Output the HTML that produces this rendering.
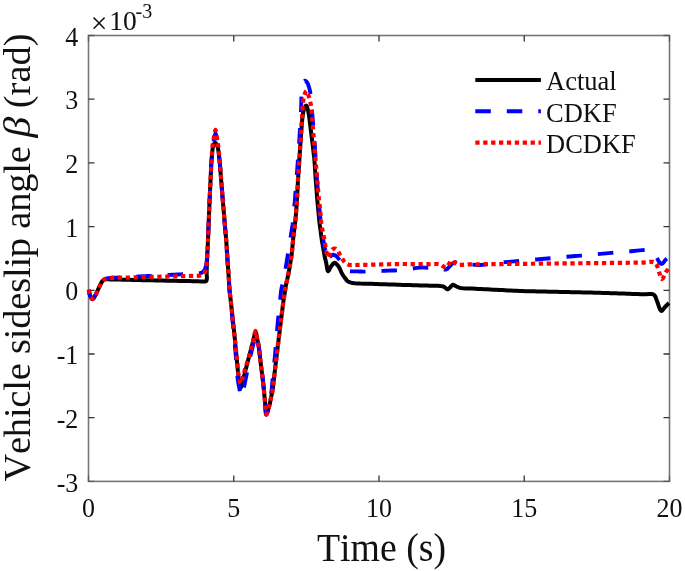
<!DOCTYPE html>
<html><head><meta charset="utf-8"><style>
html,body{margin:0;padding:0;background:#fff;}
body{width:685px;height:571px;overflow:hidden;}
svg{display:block;}
text{font-family:"Liberation Serif",serif;fill:#111;font-kerning:none;}
</style></head><body>
<svg width="685" height="571" viewBox="0 0 685 571" style="filter:blur(0.45px)">
<rect x="0" y="0" width="685" height="571" fill="#fff"/>
<rect x="88.5" y="35.5" width="581.0" height="445.9" fill="none" stroke="#777" stroke-width="1.6"/>
<path d="M233.75,481.40V475.40M233.75,35.50V41.50M379.00,481.40V475.40M379.00,35.50V41.50M524.25,481.40V475.40M524.25,35.50V41.50M88.50,417.70H94.50M669.50,417.70H663.50M88.50,354.00H94.50M669.50,354.00H663.50M88.50,290.30H94.50M669.50,290.30H663.50M88.50,226.60H94.50M669.50,226.60H663.50M88.50,162.90H94.50M669.50,162.90H663.50M88.50,99.20H94.50M669.50,99.20H663.50" stroke="#333" stroke-width="1.3" fill="none"/>
<path d="M88.50,481.40V475.40M88.50,35.50V41.50M669.50,481.40V475.40M669.50,35.50V41.50M88.50,481.40H94.50M669.50,481.40H663.50M88.50,35.50H94.50M669.50,35.50H663.50" stroke="#5a5a5a" stroke-width="1.3" fill="none"/>
<g font-size="26"><text transform="translate(78.3,491.50) scale(1,1.06)" text-anchor="end">-3</text><text transform="translate(78.3,427.80) scale(1,1.06)" text-anchor="end">-2</text><text transform="translate(78.3,364.10) scale(1,1.06)" text-anchor="end">-1</text><text transform="translate(78.3,300.40) scale(1,1.06)" text-anchor="end">0</text><text transform="translate(78.3,236.70) scale(1,1.06)" text-anchor="end">1</text><text transform="translate(78.3,173.00) scale(1,1.06)" text-anchor="end">2</text><text transform="translate(78.3,109.30) scale(1,1.06)" text-anchor="end">3</text><text transform="translate(78.3,45.60) scale(1,1.06)" text-anchor="end">4</text><text transform="translate(88.50,517.3) scale(1,1.06)" text-anchor="middle">0</text><text transform="translate(233.75,517.3) scale(1,1.06)" text-anchor="middle">5</text><text transform="translate(379.00,517.3) scale(1,1.06)" text-anchor="middle">10</text><text transform="translate(524.25,517.3) scale(1,1.06)" text-anchor="middle">15</text><text transform="translate(669.50,517.3) scale(1,1.06)" text-anchor="middle">20</text></g>
<text x="90.8" y="32.6" font-size="29.5">×</text><text x="109.3" y="29.6" font-size="27.5">10</text>
<text x="135.5" y="17.7" font-size="20">-3</text>
<text transform="translate(381.5,560.5) scale(1,1.05)" font-size="38.5" text-anchor="middle" textLength="129.1" lengthAdjust="spacingAndGlyphs">Time (s)</text>
<g font-size="38.5"><text transform="translate(30.2,481.6) rotate(-90)" textLength="335.4" lengthAdjust="spacing">Vehicle sideslip angle</text>
<text transform="translate(30.2,137.6) rotate(-90) scale(1.08,1)" font-style="italic">β</text>
<text transform="translate(30.2,108.2) rotate(-90)">(rad)</text></g>
<path d="M88.60,290.00 L89.02,291.56 L89.43,293.15 L89.87,294.67 L90.40,296.00 L90.87,296.98 L91.39,297.95 L91.94,298.69 L92.50,299.00 L93.10,298.73 L93.73,298.01 L94.36,297.03 L95.00,296.00 L95.99,294.17 L96.99,291.97 L98.00,289.65 L99.00,287.50 L99.87,285.69 L100.72,283.89 L101.59,282.26 L102.50,281.00 L103.08,280.43 L103.66,279.99 L104.29,279.66 L105.00,279.40 L106.07,279.23 L107.27,279.25 L108.58,279.34 L110.00,279.40 L112.26,279.44 L114.79,279.50 L117.42,279.56 L120.00,279.62 L122.50,279.68 L125.00,279.74 L127.50,279.79 L130.00,279.85 L132.50,279.91 L135.00,279.96 L137.50,280.02 L140.00,280.07 L142.49,280.13 L144.98,280.19 L147.48,280.24 L150.00,280.30 L152.63,280.36 L155.28,280.41 L157.94,280.47 L160.60,280.52 L163.25,280.57 L165.90,280.63 L168.55,280.69 L171.20,280.74 L173.85,280.79 L176.50,280.85 L179.15,280.90 L181.80,280.96 L184.45,281.01 L187.10,281.07 L189.75,281.12 L192.40,281.18 L195.19,281.26 L198.08,281.36 L200.77,281.43 L203.00,281.40 L204.01,281.42 L204.91,281.47 L205.68,281.38 L206.30,281.00 L206.85,279.40 L206.89,276.94 L206.72,274.13 L206.65,271.50 L206.73,269.14 L206.82,266.79 L206.90,264.42 L207.00,262.00 L207.12,259.31 L207.24,256.55 L207.37,253.77 L207.50,251.00 L207.63,248.24 L207.76,245.47 L207.88,242.71 L208.00,240.00 L208.11,237.47 L208.20,234.97 L208.30,232.49 L208.40,230.00 L208.50,227.50 L208.60,225.00 L208.70,222.50 L208.80,220.00 L208.90,217.50 L209.00,215.00 L209.10,212.50 L209.20,210.00 L209.30,207.49 L209.40,204.98 L209.50,202.48 L209.60,200.00 L209.71,197.61 L209.82,195.23 L209.94,192.87 L210.05,190.50 L210.16,188.12 L210.28,185.75 L210.39,183.38 L210.50,181.00 L210.61,178.62 L210.72,176.25 L210.84,173.88 L210.95,171.50 L211.06,169.08 L211.16,166.64 L211.27,164.25 L211.40,162.00 L211.54,160.29 L211.69,158.67 L211.85,157.10 L212.00,155.50 L212.13,153.85 L212.24,152.19 L212.38,150.56 L212.60,149.00 L212.86,147.60 L213.16,146.19 L213.53,144.94 L214.00,144.00 L214.34,143.59 L214.73,143.25 L215.13,143.04 L215.50,143.00 L215.91,143.23 L216.30,143.71 L216.67,144.33 L217.00,145.00 L217.41,146.06 L217.75,147.31 L218.04,148.65 L218.30,150.00 L218.53,151.46 L218.70,152.96 L218.84,154.49 L219.00,156.00 L219.18,157.47 L219.36,158.92 L219.53,160.41 L219.70,162.00 L219.89,164.12 L220.07,166.39 L220.25,168.71 L220.43,171.00 L220.61,173.25 L220.79,175.50 L220.97,177.75 L221.15,180.00 L221.33,182.25 L221.51,184.50 L221.69,186.75 L221.88,189.00 L222.05,191.23 L222.23,193.46 L222.41,195.70 L222.60,198.00 L222.82,200.57 L223.04,203.20 L223.27,205.86 L223.50,208.50 L223.72,211.12 L223.95,213.75 L224.18,216.38 L224.40,219.00 L224.62,221.62 L224.85,224.25 L225.07,226.88 L225.30,229.50 L225.53,232.13 L225.76,234.77 L225.99,237.39 L226.20,240.00 L226.38,242.52 L226.55,245.01 L226.71,247.51 L226.88,250.00 L227.05,252.50 L227.22,255.00 L227.39,257.50 L227.56,260.00 L227.73,262.50 L227.90,265.00 L228.07,267.50 L228.24,270.00 L228.41,272.50 L228.58,275.00 L228.75,277.50 L228.92,280.00 L229.08,282.49 L229.23,284.96 L229.40,287.46 L229.60,290.00 L229.87,292.79 L230.18,295.64 L230.51,298.51 L230.82,301.38 L231.13,304.22 L231.44,307.06 L231.74,309.91 L232.05,312.75 L232.36,315.59 L232.66,318.44 L232.97,321.28 L233.28,324.12 L233.59,326.98 L233.90,329.85 L234.21,332.70 L234.50,335.50 L234.76,338.07 L235.00,340.60 L235.24,343.11 L235.47,345.62 L235.72,348.16 L235.96,350.69 L236.21,353.22 L236.45,355.75 L236.69,358.28 L236.94,360.81 L237.18,363.34 L237.43,365.88 L237.66,368.47 L237.89,371.10 L238.13,373.66 L238.40,376.00 L238.64,377.61 L238.91,379.10 L239.18,380.54 L239.45,382.00 L239.69,383.78 L239.91,385.74 L240.17,387.33 L240.50,388.00 L241.04,387.15 L241.68,385.05 L242.36,382.42 L243.00,380.00 L243.60,377.79 L244.19,375.54 L244.76,373.26 L245.33,371.00 L245.92,368.75 L246.50,366.50 L247.08,364.25 L247.67,362.00 L248.24,359.77 L248.82,357.54 L249.40,355.30 L250.00,353.00 L250.68,350.43 L251.38,347.80 L252.09,345.14 L252.80,342.50 L253.52,339.38 L254.27,335.93 L254.97,333.14 L255.60,332.00 L256.01,332.72 L256.37,334.44 L256.70,336.57 L257.05,338.50 L257.42,340.10 L257.80,341.68 L258.17,343.30 L258.50,345.00 L258.82,347.14 L259.09,349.40 L259.34,351.71 L259.60,354.00 L259.88,356.25 L260.15,358.50 L260.43,360.75 L260.70,363.00 L260.97,365.25 L261.25,367.50 L261.52,369.75 L261.80,372.00 L262.08,374.25 L262.36,376.50 L262.63,378.75 L262.90,381.00 L263.16,383.28 L263.43,385.59 L263.67,387.85 L263.90,390.00 L264.07,391.70 L264.21,393.32 L264.36,394.90 L264.50,396.50 L264.64,398.08 L264.78,399.64 L264.93,401.25 L265.10,403.00 L265.31,406.17 L265.53,409.95 L265.83,413.13 L266.30,414.50 L266.99,413.47 L267.87,410.91 L268.76,407.76 L269.50,405.00 L269.97,403.07 L270.35,401.20 L270.69,399.36 L271.05,397.50 L271.45,395.64 L271.86,393.78 L272.25,391.91 L272.60,390.00 L272.90,387.92 L273.14,385.79 L273.37,383.64 L273.60,381.50 L273.85,379.39 L274.10,377.29 L274.34,375.17 L274.60,373.00 L274.88,370.61 L275.17,368.17 L275.46,365.70 L275.75,363.25 L276.04,360.82 L276.32,358.40 L276.61,355.97 L276.90,353.50 L277.22,350.88 L277.54,348.23 L277.87,345.56 L278.20,342.90 L278.53,340.25 L278.85,337.60 L279.18,334.95 L279.50,332.30 L279.82,329.65 L280.14,327.01 L280.47,324.36 L280.80,321.70 L281.14,319.00 L281.49,316.28 L281.85,313.57 L282.20,310.85 L282.55,308.09 L282.90,305.30 L283.25,302.57 L283.60,300.00 L283.90,298.03 L284.20,296.16 L284.50,294.34 L284.80,292.50 L285.08,290.65 L285.36,288.81 L285.65,286.95 L286.00,285.00 L286.50,282.60 L287.07,280.09 L287.66,277.54 L288.20,275.00 L288.68,272.50 L289.14,270.00 L289.57,267.50 L290.00,265.00 L290.43,262.50 L290.85,260.00 L291.25,257.50 L291.60,255.00 L291.89,252.50 L292.14,250.00 L292.36,247.50 L292.60,245.00 L292.84,242.50 L293.08,240.00 L293.33,237.50 L293.60,235.00 L293.91,232.50 L294.25,230.00 L294.59,227.50 L294.90,225.00 L295.18,222.50 L295.44,220.00 L295.68,217.50 L295.90,215.00 L296.10,212.50 L296.27,210.00 L296.44,207.50 L296.60,205.00 L296.76,202.47 L296.92,199.91 L297.06,197.40 L297.20,195.00 L297.31,193.05 L297.41,191.18 L297.50,189.35 L297.60,187.50 L297.70,185.62 L297.79,183.75 L297.89,181.87 L298.00,180.00 L298.12,178.12 L298.24,176.25 L298.37,174.37 L298.50,172.50 L298.62,170.62 L298.75,168.75 L298.88,166.88 L299.00,165.00 L299.12,163.12 L299.25,161.25 L299.38,159.38 L299.50,157.50 L299.62,155.62 L299.75,153.75 L299.88,151.88 L300.00,150.00 L300.12,148.12 L300.25,146.25 L300.38,144.38 L300.50,142.50 L300.62,140.62 L300.74,138.75 L300.87,136.87 L301.00,135.00 L301.14,133.12 L301.29,131.25 L301.45,129.37 L301.60,127.50 L301.73,125.65 L301.85,123.81 L302.00,121.95 L302.20,120.00 L302.48,117.50 L302.81,114.82 L303.23,112.23 L303.80,110.00 L304.34,108.51 L304.98,107.04 L305.62,105.93 L306.20,105.50 L306.65,105.92 L307.07,106.93 L307.45,108.22 L307.80,109.50 L308.22,111.21 L308.59,113.13 L308.91,115.10 L309.20,117.00 L309.43,118.66 L309.63,120.28 L309.81,121.89 L310.00,123.50 L310.20,125.11 L310.39,126.72 L310.59,128.34 L310.80,130.00 L311.03,131.84 L311.27,133.72 L311.51,135.61 L311.75,137.50 L311.99,139.37 L312.23,141.25 L312.47,143.12 L312.70,145.00 L312.92,146.87 L313.13,148.75 L313.34,150.62 L313.55,152.50 L313.77,154.36 L313.99,156.21 L314.21,158.08 L314.40,160.00 L314.57,162.19 L314.72,164.45 L314.86,166.73 L315.00,169.00 L315.15,171.23 L315.29,173.44 L315.44,175.69 L315.60,178.00 L315.80,180.67 L316.01,183.43 L316.23,186.22 L316.45,189.00 L316.66,191.75 L316.86,194.50 L317.07,197.25 L317.30,200.00 L317.55,202.75 L317.81,205.50 L318.08,208.25 L318.35,211.00 L318.61,213.78 L318.86,216.57 L319.12,219.33 L319.40,222.00 L319.68,224.31 L319.99,226.56 L320.29,228.77 L320.60,231.00 L320.89,233.26 L321.18,235.53 L321.48,237.79 L321.80,240.00 L322.13,242.03 L322.48,244.03 L322.84,246.01 L323.20,248.00 L323.54,250.01 L323.88,252.02 L324.22,254.02 L324.60,256.00 L325.01,257.92 L325.45,259.81 L325.90,261.71 L326.35,263.60 L326.74,265.84 L327.11,268.29 L327.53,270.31 L328.10,271.20 L328.72,270.72 L329.42,269.43 L330.19,267.85 L331.00,266.50 L331.83,265.36 L332.72,264.18 L333.62,263.23 L334.50,262.80 L335.20,262.96 L335.89,263.46 L336.57,264.13 L337.20,264.80 L337.83,265.50 L338.41,266.26 L338.96,267.10 L339.50,268.00 L340.11,269.27 L340.68,270.69 L341.25,272.14 L341.90,273.50 L342.62,274.69 L343.39,275.84 L344.19,276.94 L345.00,278.00 L345.69,278.96 L346.35,279.90 L347.08,280.77 L348.00,281.50 L349.45,282.18 L351.16,282.66 L353.04,283.01 L355.00,283.30 L357.62,283.54 L360.45,283.62 L363.37,283.63 L366.25,283.68 L369.06,283.77 L371.88,283.86 L374.69,283.96 L377.50,284.05 L380.31,284.14 L383.12,284.24 L385.94,284.33 L388.75,284.43 L391.58,284.52 L394.42,284.62 L397.23,284.71 L400.00,284.80 L402.54,284.88 L405.04,284.95 L407.51,285.03 L410.00,285.10 L412.50,285.17 L415.00,285.25 L417.50,285.33 L420.00,285.40 L422.50,285.48 L425.00,285.55 L427.50,285.62 L430.00,285.70 L432.61,285.75 L435.28,285.78 L437.82,285.84 L440.00,286.00 L441.14,286.13 L442.15,286.27 L443.08,286.48 L444.00,286.80 L444.93,287.42 L445.83,288.26 L446.68,288.99 L447.50,289.30 L448.15,289.11 L448.77,288.66 L449.38,288.07 L450.00,287.50 L450.73,286.77 L451.47,285.91 L452.23,285.17 L453.00,284.80 L453.72,284.91 L454.44,285.32 L455.20,285.84 L456.00,286.30 L457.00,286.76 L458.04,287.22 L459.18,287.65 L460.50,288.00 L463.06,288.33 L466.08,288.46 L469.29,288.51 L472.40,288.60 L475.38,288.75 L478.35,288.90 L481.33,289.05 L484.30,289.20 L487.27,289.35 L490.25,289.50 L493.22,289.65 L496.20,289.80 L499.18,289.95 L502.15,290.10 L505.13,290.25 L508.10,290.40 L511.08,290.56 L514.06,290.72 L517.04,290.87 L520.00,291.00 L522.87,291.09 L525.73,291.15 L528.58,291.20 L531.43,291.26 L534.29,291.32 L537.14,291.39 L540.00,291.45 L542.86,291.51 L545.71,291.58 L548.57,291.64 L551.43,291.71 L554.29,291.77 L557.14,291.84 L560.00,291.90 L562.86,291.96 L565.71,292.03 L568.57,292.09 L571.43,292.16 L574.29,292.22 L577.14,292.29 L580.00,292.35 L582.86,292.41 L585.71,292.48 L588.57,292.54 L591.44,292.60 L594.31,292.66 L597.17,292.73 L600.00,292.80 L602.71,292.88 L605.40,292.97 L608.08,293.07 L610.76,293.16 L613.45,293.25 L616.14,293.34 L618.83,293.43 L621.52,293.52 L624.21,293.61 L626.90,293.70 L629.59,293.79 L632.28,293.88 L634.97,293.97 L637.66,294.06 L640.35,294.15 L643.04,294.24 L645.91,294.14 L648.89,293.90 L651.64,293.93 L653.80,294.60 L654.95,295.78 L655.70,297.36 L656.30,299.16 L657.00,301.00 L658.02,303.77 L659.06,307.00 L660.14,309.73 L661.30,311.00 L662.18,310.64 L663.10,309.57 L664.05,308.21 L665.00,307.00 L665.98,305.99 L666.99,305.00 L667.99,304.00 L669.00,303.00" fill="none" stroke="#000" stroke-width="4.0" stroke-linejoin="round"/>
<path d="M88.60,290.50 L89.02,292.06 L89.43,293.67 L89.87,295.19 L90.40,296.50 L90.87,297.41 L91.40,298.28 L91.95,298.94 L92.50,299.20 L93.11,298.89 L93.73,298.12 L94.36,297.08 L95.00,296.00 L95.98,294.15 L96.99,291.95 L98.00,289.64 L99.00,287.50 L99.87,285.71 L100.73,283.93 L101.60,282.31 L102.50,281.00 L103.08,280.35 L103.66,279.82 L104.28,279.38 L105.00,279.00 L106.07,278.62 L107.27,278.36 L108.59,278.17 L110.00,278.00 L112.16,277.80 L114.56,277.69 L117.05,277.60 L119.50,277.50 L121.88,277.38 L124.25,277.25 L126.62,277.12 L129.00,277.00 L131.38,276.88 L133.75,276.75 L136.12,276.62 L138.50,276.50 L140.86,276.38 L143.22,276.25 L145.59,276.13 L148.00,276.00 L150.62,275.87 L153.29,275.73 L155.99,275.60 L158.67,275.47 L161.33,275.33 L164.00,275.20 L166.67,275.07 L169.33,274.93 L172.00,274.80 L174.67,274.68 L177.34,274.55 L180.00,274.40 L182.63,274.24 L185.26,274.06 L187.88,273.88 L190.50,273.70 L193.27,273.63 L196.14,273.64 L198.82,273.50 L201.00,273.00 L202.11,272.45 L203.02,271.79 L203.81,270.98 L204.50,270.00 L205.27,268.35 L205.82,266.37 L206.24,264.21" fill="none" stroke="#0000ff" stroke-width="3.9" stroke-dasharray="15.5 16" stroke-dashoffset="29.27" stroke-linejoin="round"/>
<path d="M206.24,264.21 L206.60,262.00 L206.90,259.38 L207.07,256.62 L207.17,253.79 L207.30,251.00 L207.48,248.24 L207.67,245.47 L207.85,242.71 L208.00,240.00 L208.12,237.47 L208.22,234.97 L208.31,232.49 L208.40,230.00 L208.50,227.50 L208.60,225.00 L208.70,222.50 L208.80,220.00 L208.90,217.50 L209.00,215.00 L209.10,212.50 L209.20,210.00 L209.30,207.49 L209.40,204.98 L209.50,202.48 L209.60,200.00 L209.71,197.61 L209.82,195.23 L209.94,192.87 L210.05,190.50 L210.16,188.12 L210.28,185.75 L210.39,183.38 L210.50,181.00 L210.61,178.62 L210.72,176.25 L210.84,173.88 L210.95,171.50 L211.06,169.10 L211.16,166.68 L211.27,164.30 L211.40,162.00 L211.54,160.06 L211.69,158.19 L211.85,156.35 L212.00,154.50 L212.13,152.63 L212.24,150.76 L212.39,148.89 L212.60,147.00 L212.93,144.98 L213.34,142.92 L213.78,140.90 L214.20,139.00 L214.53,137.29 L214.85,135.50 L215.18,134.08 L215.50,133.50 L215.83,134.07 L216.16,135.48 L216.48,137.27 L216.80,139.00 L217.20,141.12 L217.61,143.43 L217.98,145.77 L218.30,148.00 L218.52,149.81 L218.69,151.55 L218.84,153.27 L219.00,155.00 L219.18,156.73 L219.35,158.44 L219.53,160.19 L219.70,162.00 L219.89,164.17 L220.07,166.43 L220.25,168.72 L220.42,171.00 L220.61,173.25 L220.79,175.50 L220.97,177.75 L221.15,180.00 L221.33,182.25 L221.51,184.50 L221.69,186.75 L221.88,189.00 L222.05,191.23 L222.23,193.46 L222.41,195.70 L222.60,198.00 L222.81,200.57 L223.02,203.20 L223.24,205.86 L223.45,208.50 L223.66,211.12 L223.88,213.75 L224.09,216.38 L224.30,219.00 L224.51,221.62 L224.73,224.25 L224.94,226.88 L225.15,229.50 L225.37,232.13 L225.58,234.77 L225.80,237.39 L226.00,240.00 L226.18,242.52 L226.35,245.01 L226.51,247.51 L226.68,250.00 L226.85,252.50 L227.02,255.00 L227.19,257.50 L227.36,260.00 L227.53,262.50 L227.70,265.00 L227.87,267.50 L228.04,270.00 L228.21,272.50 L228.38,275.00 L228.55,277.50 L228.72,280.00 L228.88,282.49 L229.04,284.96 L229.20,287.46 L229.40,290.00 L229.66,292.77 L229.95,295.58 L230.25,298.42 L230.55,301.25 L230.84,304.06 L231.13,306.88 L231.41,309.69 L231.70,312.50 L231.99,315.31 L232.27,318.12 L232.56,320.94 L232.85,323.75 L233.14,326.56 L233.44,329.37 L233.73,332.19 L234.00,335.00 L234.25,337.81 L234.49,340.62 L234.72,343.44 L234.95,346.25 L235.19,349.06 L235.43,351.88 L235.66,354.69 L235.90,357.50 L236.14,360.31 L236.38,363.13 L236.61,365.94 L236.85,368.75 L237.07,371.60 L237.27,374.48 L237.50,377.30 L237.80,380.00 L238.15,382.21 L238.56,384.33 L238.98,386.40 L239.40,388.50 L239.78,391.02 L240.13,393.80 L240.53,396.05 L241.00,397.00 L241.64,396.05 L242.37,393.70 L243.12,390.74 L243.80,388.00 L244.41,385.41 L244.95,382.73 L245.47,380.02 L246.00,377.33 L246.55,374.67 L247.10,372.00 L247.65,369.33 L248.20,366.67 L248.74,364.00 L249.27,361.34 L249.81,358.67 L250.40,356.00 L251.06,353.26 L251.77,350.51 L252.49,347.75 L253.20,345.00 L253.92,341.73 L254.66,338.12 L255.37,335.20 L256.00,334.00 L256.42,334.77 L256.79,336.63 L257.14,338.92 L257.50,341.00 L257.88,342.71 L258.27,344.40 L258.65,346.13 L259.00,348.00 L259.37,350.57 L259.70,353.34 L260.01,356.19 L260.33,359.00 L260.67,361.75 L261.00,364.50 L261.33,367.25 L261.67,370.00 L262.01,372.78 L262.36,375.57 L262.69,378.33 L263.00,381.00 L263.25,383.35 L263.48,385.65 L263.70,387.87 L263.90,390.00 L264.06,391.70 L264.21,393.32 L264.35,394.90 L264.50,396.50 L264.64,398.08 L264.78,399.64 L264.93,401.25 L265.10,403.00 L265.32,406.17 L265.54,409.96 L265.84,413.13 L266.30,414.50 L266.96,413.47 L267.80,410.90 L268.63,407.76 L269.30,405.00 L269.68,403.07 L269.96,401.20 L270.19,399.36 L270.45,397.50 L270.75,395.64 L271.05,393.78 L271.34,391.91 L271.60,390.00 L271.83,387.91 L272.03,385.79 L272.21,383.64 L272.40,381.50 L272.60,379.38 L272.80,377.27 L272.99,375.14 L273.20,373.00 L273.42,370.77 L273.65,368.52 L273.87,366.26 L274.10,364.00 L274.33,361.78 L274.55,359.57 L274.78,357.33 L275.00,355.00 L275.25,352.19 L275.50,349.26 L275.75,346.29 L276.00,343.33 L276.25,340.42 L276.50,337.50 L276.75,334.58 L277.00,331.67 L277.25,328.73 L277.49,325.78 L277.74,322.85 L278.00,320.00 L278.26,317.45 L278.52,314.95 L278.80,312.48 L279.07,310.00 L279.33,307.50 L279.60,305.00 L279.87,302.50 L280.13,300.00 L280.38,297.46 L280.61,294.91 L280.87,292.39 L281.20,290.00 L281.57,288.04 L281.98,286.18 L282.42,284.35 L282.85,282.50 L283.27,280.64 L283.70,278.78 L284.11,276.91 L284.50,275.00 L284.87,272.95 L285.21,270.86 L285.53,268.76 L285.87,266.67 L286.21,264.58 L286.55,262.50 L286.89,260.42 L287.23,258.33 L287.58,256.25 L287.92,254.17 L288.26,252.08 L288.60,250.00 L288.93,247.92 L289.25,245.83 L289.58,243.75 L289.90,241.67 L290.23,239.58 L290.55,237.50 L290.88,235.42 L291.20,233.33 L291.54,231.25 L291.88,229.17 L292.21,227.09 L292.50,225.00 L292.73,222.92 L292.93,220.84 L293.11,218.75 L293.30,216.67 L293.50,214.58 L293.70,212.50 L293.90,210.42 L294.10,208.33 L294.30,206.25 L294.51,204.17 L294.71,202.08 L294.90,200.00 L295.07,197.92 L295.23,195.83 L295.38,193.75 L295.53,191.67 L295.69,189.58 L295.85,187.50 L296.01,185.42 L296.17,183.33 L296.32,181.26 L296.48,179.19 L296.64,177.11 L296.80,175.00 L296.97,172.77 L297.13,170.52 L297.30,168.26 L297.47,166.00 L297.63,163.75 L297.80,161.50 L297.97,159.25 L298.13,157.00 L298.30,154.77 L298.47,152.56 L298.64,150.31 L298.80,148.00 L298.97,145.33 L299.14,142.57 L299.30,139.78 L299.47,137.00 L299.63,134.25 L299.80,131.50 L299.97,128.75 L300.13,126.00 L300.31,123.24 L300.48,120.47 L300.65,117.71 L300.80,115.00 L300.92,112.47 L301.01,109.97 L301.11,107.49 L301.20,105.00 L301.27,102.50 L301.33,100.01 L301.42,97.51 L301.60,95.00 L301.89,92.26 L302.26,89.42 L302.70,86.74 L303.20,84.50 L303.52,83.29 L303.84,82.15 L304.22,81.26 L304.70,80.80 L305.18,80.81 L305.73,81.08 L306.30,81.50 L306.80,82.00 L307.40,82.88 L307.92,84.01 L308.37,85.26 L308.80,86.50 L309.22,87.82 L309.60,89.19 L309.92,90.59 L310.20,92.00 L310.42,93.48 L310.58,94.98 L310.71,96.49 L310.85,98.00 L311.02,99.49 L311.18,100.97 L311.35,102.47 L311.50,104.00 L311.65,105.71 L311.78,107.47 L311.92,109.24 L312.05,111.00 L312.18,112.71 L312.31,114.40 L312.45,116.14 L312.60,118.00 L312.82,120.58 L313.06,123.35 L313.31,126.19 L313.55,129.00 L313.79,131.76 L314.04,134.53 L314.28,137.29 L314.50,140.00 L314.68,142.53 L314.83,145.03 L314.98,147.51 L315.12,150.00 L315.28,152.50 L315.44,155.00 L315.59,157.50 L315.75,160.00 L315.91,162.50 L316.06,165.00 L316.22,167.50 L316.38,170.00 L316.52,172.48 L316.67,174.95 L316.82,177.45 L317.00,180.00 L317.23,182.85 L317.48,185.78 L317.74,188.73 L318.00,191.67 L318.25,194.58 L318.50,197.50 L318.75,200.42 L319.00,203.33 L319.24,206.26 L319.48,209.21 L319.73,212.13 L320.00,215.00 L320.29,217.67 L320.61,220.29 L320.93,222.89 L321.25,225.50 L321.55,228.18 L321.85,230.91 L322.16,233.55 L322.50,236.00 L322.80,237.74 L323.11,239.35 L323.43,240.91 L323.75,242.50 L324.04,244.10 L324.32,245.68 L324.62,247.29 L325.00,249.00 L325.56,251.65 L326.19,254.69 L326.93,257.26 L327.80,258.50 L328.35,258.36 L328.95,257.81 L329.57,257.10" fill="none" stroke="#0000ff" stroke-width="3.9" stroke-dasharray="15.5 16" stroke-dashoffset="3.20" stroke-linejoin="round"/>
<path d="M329.57,257.10 L330.20,256.50 L330.83,255.99 L331.46,255.46 L332.12,255.03 L332.80,254.80 L333.53,254.82 L334.30,255.03 L335.07,255.38 L335.80,255.80 L336.60,256.42 L337.35,257.20 L338.08,258.08 L338.80,259.00 L339.61,260.15 L340.39,261.39 L341.18,262.70 L342.00,264.00 L342.93,265.53 L343.89,267.16 L344.90,268.66 L346.00,269.80 L346.91,270.37 L347.86,270.74 L348.88,270.99 L350.00,271.20 L351.70,271.38 L353.59,271.42 L355.57,271.39 L357.50,271.40 L359.34,271.46 L361.15,271.53 L363.01,271.59 L365.00,271.60 L367.74,271.54 L370.67,271.42 L373.69,271.27 L376.67,271.13 L379.58,271.02 L382.50,270.90 L385.42,270.78 L388.33,270.67 L391.27,270.57 L394.23,270.49 L397.15,270.38 L400.00,270.20 L402.56,269.93 L405.05,269.60 L407.52,269.24 L410.00,268.90 L412.50,268.54 L415.00,268.16 L417.50,267.82 L420.00,267.60 L422.50,267.55 L425.00,267.61 L427.50,267.72 L430.00,267.80 L432.56,267.80 L435.17,267.77 L437.69,267.81 L440.00,268.00 L441.66,268.44 L443.21,269.07 L444.66,269.57 L446.00,269.60 L447.10,269.04 L448.07,268.10 L449.00,267.01 L450.00,266.00 L451.12,264.94 L452.27,263.80 L453.46,262.83 L454.70,262.30 L455.93,262.39 L457.19,262.90 L458.53,263.53 L460.00,264.00 L462.27,264.27 L464.79,264.38 L467.42,264.42 L470.00,264.50 L472.50,264.66 L475.00,264.86 L477.50,264.99 L480.00,265.00 L482.50,264.82 L485.00,264.51 L487.50,264.14 L490.00,263.80 L492.49,263.49 L494.96,263.18 L497.46,262.88 L500.00,262.60 L502.74,262.34 L505.54,262.10 L508.35,261.87 L511.15,261.63 L513.94,261.39 L516.73,261.15 L519.52,260.90 L522.31,260.66 L525.10,260.42 L527.88,260.18 L530.67,259.93 L533.46,259.69 L536.25,259.45 L539.04,259.21 L541.83,258.97 L544.62,258.72 L547.40,258.48 L550.19,258.24 L552.98,258.00 L555.77,257.75 L558.56,257.51 L561.35,257.27 L564.13,257.03 L566.92,256.78 L569.71,256.54 L572.50,256.30 L575.29,256.06 L578.08,255.82 L580.87,255.57 L583.65,255.33 L586.44,255.09 L589.23,254.85 L592.02,254.60 L594.81,254.36 L597.60,254.12 L600.38,253.88 L603.17,253.63 L605.96,253.39 L608.75,253.15 L611.54,252.91 L614.33,252.67 L617.12,252.42 L619.90,252.18 L622.69,251.94 L625.48,251.70 L628.27,251.45 L631.06,251.21 L633.85,250.97 L636.71,250.68 L639.64,250.37 L642.45,250.11 L645.00,250.00 L646.67,249.95 L648.21,249.90 L649.65,250.03 L651.00,250.50 L652.39,251.59 L653.63,253.13 L654.80,254.88 L656.00,256.60 L657.33,258.71 L658.65,261.11 L659.97,263.10 L661.30,264.00 L662.43,263.54 L663.58,262.32 L664.72,260.83 L665.80,259.60 L666.63,258.89 L667.42,258.25 L668.21,257.63 L669.00,257.00" fill="none" stroke="#0000ff" stroke-width="3.9" stroke-dasharray="15.5 16" stroke-dashoffset="2.57" stroke-linejoin="round"/>
<path d="M88.60,289.50 L89.03,291.04 L89.44,292.62 L89.89,294.13 L90.40,295.50 L90.87,296.61 L91.39,297.74 L91.93,298.62 L92.50,299.00 L93.09,298.74 L93.72,298.02 L94.36,297.04 L95.00,296.00 L95.99,294.17 L96.99,291.97 L98.00,289.65 L99.00,287.50 L99.87,285.71 L100.73,283.93 L101.60,282.31 L102.50,281.00 L103.08,280.35 L103.66,279.82 L104.28,279.38 L105.00,279.00 L106.06,278.62 L107.24,278.35 L108.56,278.16 L110.00,278.00 L112.48,277.83 L115.31,277.77 L118.28,277.75 L121.19,277.71 L123.98,277.64 L126.78,277.57 L129.58,277.50 L132.38,277.43 L135.17,277.35 L137.97,277.28 L140.77,277.21 L143.56,277.14 L146.36,277.07 L149.16,276.99 L151.95,276.92 L154.75,276.85 L157.55,276.78 L160.34,276.71 L163.14,276.63 L165.94,276.56 L168.73,276.49 L171.53,276.42 L174.33,276.35 L177.12,276.27 L179.92,276.20 L182.72,276.13 L185.52,276.06 L188.31,275.99 L191.26,275.97 L194.31,275.99 L197.16,275.93 L199.50,275.70 L200.55,275.50 L201.45,275.27 L202.26,274.96 L203.00,274.50 L203.75,273.84 L204.41,273.03 L205.00,272.08 L205.50,271.00 L206.04,269.10 L206.37,266.85 L206.59,264.43 L206.80,262.00 L207.01,259.33 L207.15,256.57 L207.27,253.78 L207.40,251.00 L207.55,248.24 L207.71,245.47 L207.86,242.71 L208.00,240.00 L208.11,237.47 L208.21,234.97 L208.30,232.49 L208.40,230.00 L208.50,227.50 L208.60,225.00 L208.70,222.50 L208.80,220.00 L208.90,217.50 L209.00,215.00 L209.10,212.50 L209.20,210.00 L209.30,207.49 L209.40,204.98 L209.50,202.48 L209.60,200.00 L209.71,197.61 L209.82,195.23 L209.94,192.87 L210.05,190.50 L210.16,188.12 L210.28,185.75 L210.39,183.38 L210.50,181.00 L210.61,178.62 L210.72,176.25 L210.84,173.88 L210.95,171.50 L211.06,169.11 L211.16,166.72 L211.27,164.34 L211.40,162.00 L211.54,159.84 L211.69,157.72 L211.85,155.61 L212.00,153.50 L212.13,151.35 L212.25,149.20 L212.40,147.06 L212.60,145.00 L212.85,143.21 L213.14,141.48 L213.46,139.76 L213.80,138.00 L214.20,135.66 L214.64,133.03 L215.08,130.88 L215.50,130.00 L215.89,130.87 L216.28,132.97 L216.65,135.59 L217.00,138.00 L217.36,140.24 L217.70,142.56 L218.02,144.84 L218.30,147.00 L218.50,148.70 L218.67,150.31 L218.83,151.90 L219.00,153.50 L219.18,155.10 L219.36,156.67 L219.53,158.29 L219.70,160.00 L219.89,162.25 L220.07,164.64 L220.25,167.08 L220.43,169.50 L220.61,171.88 L220.79,174.25 L220.97,176.62 L221.15,179.00 L221.33,181.38 L221.51,183.75 L221.69,186.12 L221.88,188.50 L222.05,190.86 L222.23,193.22 L222.41,195.59 L222.60,198.00 L222.82,200.59 L223.04,203.22 L223.27,205.86 L223.50,208.50 L223.72,211.12 L223.95,213.75 L224.18,216.38 L224.40,219.00 L224.62,221.62 L224.85,224.25 L225.07,226.88 L225.30,229.50 L225.53,232.13 L225.76,234.77 L225.99,237.39 L226.20,240.00 L226.38,242.52 L226.55,245.01 L226.71,247.51 L226.88,250.00 L227.05,252.50 L227.22,255.00 L227.39,257.50 L227.56,260.00 L227.73,262.50 L227.90,265.00 L228.07,267.50 L228.24,270.00 L228.41,272.50 L228.58,275.00 L228.75,277.50 L228.92,280.00 L229.08,282.49 L229.23,284.96 L229.40,287.46 L229.60,290.00 L229.87,292.79 L230.18,295.64 L230.51,298.51 L230.82,301.38 L231.13,304.22 L231.44,307.06 L231.74,309.91 L232.05,312.75 L232.36,315.59 L232.66,318.44 L232.97,321.28 L233.28,324.12 L233.59,326.99 L233.90,329.87 L234.21,332.72 L234.50,335.50 L234.75,337.96 L235.00,340.36 L235.23,342.74 L235.47,345.12 L235.72,347.53 L235.96,349.94 L236.21,352.34 L236.45,354.75 L236.69,357.16 L236.94,359.56 L237.18,361.97 L237.43,364.38 L237.64,366.79 L237.82,369.20 L238.06,371.61 L238.40,374.00 L238.90,376.83 L239.51,379.94 L240.16,382.46 L240.80,383.50 L241.34,382.69 L241.89,380.70 L242.44,378.23 L243.00,376.00 L243.58,374.09 L244.16,372.17 L244.75,370.25 L245.33,368.33 L245.92,366.42 L246.50,364.50 L247.08,362.58 L247.67,360.67 L248.25,358.78 L248.83,356.92 L249.42,355.02 L250.00,353.00 L250.70,350.39 L251.40,347.63 L252.10,344.80 L252.80,342.00 L253.53,338.73 L254.27,335.12 L254.98,332.20 L255.60,331.00 L256.01,331.77 L256.37,333.63 L256.70,335.92 L257.05,338.00 L257.42,339.73 L257.80,341.44 L258.17,343.18 L258.50,345.00 L258.81,347.17 L259.09,349.43 L259.34,351.72 L259.60,354.00 L259.88,356.25 L260.15,358.50 L260.43,360.75 L260.70,363.00 L260.97,365.25 L261.25,367.50 L261.52,369.75 L261.80,372.00 L262.08,374.25 L262.36,376.50 L262.63,378.75 L262.90,381.00 L263.16,383.28 L263.43,385.59 L263.67,387.85 L263.90,390.00 L264.07,391.70 L264.21,393.32 L264.36,394.90 L264.50,396.50 L264.64,398.08 L264.78,399.64 L264.93,401.25 L265.10,403.00 L265.31,406.17 L265.53,409.95 L265.83,413.13 L266.30,414.50 L266.99,413.47 L267.87,410.91 L268.76,407.76 L269.50,405.00 L269.97,403.07 L270.35,401.20 L270.69,399.36 L271.05,397.50 L271.45,395.64 L271.86,393.78 L272.25,391.91 L272.60,390.00 L272.90,387.92 L273.14,385.79 L273.37,383.64 L273.60,381.50 L273.85,379.39 L274.10,377.29 L274.34,375.17 L274.60,373.00 L274.88,370.61 L275.17,368.17 L275.46,365.70 L275.75,363.25 L276.04,360.82 L276.32,358.40 L276.61,355.97 L276.90,353.50 L277.22,350.88 L277.54,348.23 L277.87,345.56 L278.20,342.90 L278.53,340.25 L278.85,337.60 L279.18,334.95 L279.50,332.30 L279.82,329.65 L280.14,327.01 L280.47,324.36 L280.80,321.70 L281.14,319.00 L281.49,316.28 L281.85,313.57 L282.20,310.85 L282.55,308.09 L282.90,305.30 L283.25,302.57 L283.60,300.00 L283.90,298.03 L284.20,296.16 L284.50,294.34 L284.80,292.50 L285.08,290.65 L285.36,288.81 L285.65,286.95 L286.00,285.00 L286.50,282.60 L287.07,280.09 L287.66,277.54 L288.20,275.00 L288.68,272.50 L289.14,270.00 L289.57,267.50 L290.00,265.00 L290.43,262.50 L290.85,260.00 L291.25,257.50 L291.60,255.00 L291.89,252.50 L292.14,250.00 L292.36,247.50 L292.60,245.00 L292.84,242.50 L293.08,240.00 L293.33,237.50 L293.60,235.00 L293.91,232.50 L294.25,230.00 L294.59,227.50 L294.90,225.00 L295.18,222.50 L295.44,220.00 L295.68,217.50 L295.90,215.00 L296.10,212.50 L296.27,210.00 L296.44,207.50 L296.60,205.00 L296.76,202.47 L296.92,199.91 L297.06,197.40 L297.20,195.00 L297.31,193.05 L297.41,191.18 L297.50,189.35 L297.60,187.50 L297.70,185.62 L297.79,183.75 L297.89,181.87 L298.00,180.00 L298.12,178.12 L298.24,176.25 L298.37,174.37 L298.50,172.50 L298.62,170.62 L298.75,168.75 L298.88,166.88 L299.00,165.00 L299.12,163.12 L299.25,161.25 L299.38,159.38 L299.50,157.50 L299.62,155.62 L299.75,153.75 L299.88,151.88 L300.00,150.00 L300.12,148.12 L300.25,146.25 L300.38,144.38 L300.50,142.50 L300.63,140.64 L300.75,138.78 L300.88,136.91 L301.00,135.00 L301.13,132.91 L301.25,130.78 L301.38,128.64 L301.50,126.50 L301.63,124.34 L301.76,122.16 L301.88,120.02 L302.00,118.00 L302.09,116.43 L302.18,114.93 L302.26,113.48 L302.35,112.00 L302.43,110.52 L302.49,109.06 L302.58,107.57 L302.70,106.00 L302.88,103.94 L303.09,101.75 L303.38,99.56 L303.80,97.50 L304.34,95.49 L305.00,93.37 L305.71,91.69 L306.40,91.00 L307.06,91.61 L307.74,93.13 L308.40,95.09 L309.00,97.00 L309.67,99.31 L310.26,101.84 L310.78,104.45 L311.20,107.00 L311.48,109.35 L311.67,111.68 L311.81,114.01 L311.97,116.33 L312.16,118.67 L312.35,121.00 L312.54,123.33 L312.73,125.67 L312.92,127.99 L313.11,130.31 L313.31,132.64 L313.50,135.00 L313.71,137.48 L313.91,139.98 L314.12,142.49 L314.33,145.00 L314.54,147.50 L314.75,150.00 L314.96,152.50 L315.17,155.00 L315.38,157.50 L315.58,160.00 L315.79,162.50 L316.00,165.00 L316.21,167.50 L316.42,170.00 L316.62,172.50 L316.83,175.00 L317.04,177.50 L317.25,180.00 L317.46,182.50 L317.67,185.00 L317.87,187.50 L318.07,190.00 L318.28,192.49 L318.50,195.00 L318.74,197.54 L319.00,200.08 L319.27,202.62 L319.53,205.17 L319.79,207.71 L320.05,210.25 L320.31,212.79 L320.57,215.33 L320.81,217.91 L321.04,220.50 L321.29,223.05 L321.60,225.50 L321.95,227.56 L322.34,229.54 L322.75,231.49 L323.15,233.45 L323.54,235.42 L323.94,237.38 L324.32,239.36 L324.70,241.40 L325.07,243.78 L325.40,246.27 L325.76,248.72 L326.20,251.00 L326.64,253.02 L327.13,255.14 L327.66,256.81 L328.20,257.50 L328.69,256.93 L329.19,255.54 L329.73,253.88 L330.30,252.50 L330.81,251.63 L331.35,250.81 L331.91,250.09 L332.50,249.50 L332.98,249.12 L333.47,248.79 L333.98,248.57 L334.50,248.50 L335.11,248.63 L335.74,248.95 L336.37,249.42 L337.00,250.00 L337.99,251.27 L338.98,252.94 L339.97,254.76 L341.00,256.50 L342.06,258.24 L343.14,260.03 L344.27,261.69 L345.50,263.00 L346.54,263.74 L347.62,264.29 L348.77,264.69 L350.00,265.00 L351.59,265.19 L353.30,265.17 L355.10,265.07 L357.00,265.00 L359.53,264.96 L362.23,264.89 L365.01,264.82 L367.75,264.75 L370.44,264.69 L373.12,264.62 L375.81,264.56 L378.50,264.50 L381.19,264.44 L383.88,264.38 L386.56,264.31 L389.25,264.25 L391.95,264.18 L394.65,264.10 L397.34,264.04 L400.00,264.00 L402.53,264.00 L405.02,264.02 L407.51,264.05 L410.00,264.07 L412.50,264.09 L415.00,264.11 L417.50,264.13 L420.00,264.15 L422.50,264.17 L425.00,264.19 L427.50,264.21 L430.00,264.23 L432.57,264.14 L435.19,263.99 L437.71,263.98 L440.00,264.30 L441.66,265.12 L443.18,266.31 L444.60,267.32 L446.00,267.60 L447.58,266.33 L449.07,263.92 L450.52,261.55 L452.00,260.40 L453.18,260.87 L454.30,262.10 L455.53,263.51 L457.00,264.50 L459.51,264.92 L462.47,264.84 L465.60,264.56 L468.65,264.38 L471.56,264.35 L474.47,264.32 L477.38,264.29 L480.29,264.26 L483.21,264.24 L486.12,264.21 L489.03,264.18 L491.94,264.15 L494.85,264.12 L497.76,264.09 L500.68,264.06 L503.59,264.03 L506.50,264.00 L509.41,263.97 L512.32,263.94 L515.24,263.91 L518.15,263.88 L521.06,263.85 L523.97,263.82 L526.88,263.79 L529.79,263.76 L532.71,263.74 L535.62,263.71 L538.53,263.68 L541.44,263.65 L544.35,263.62 L547.26,263.59 L550.18,263.56 L553.09,263.53 L556.00,263.50 L558.91,263.47 L561.82,263.44 L564.74,263.41 L567.65,263.38 L570.56,263.35 L573.47,263.32 L576.38,263.29 L579.29,263.26 L582.21,263.24 L585.12,263.21 L588.03,263.18 L590.94,263.15 L593.85,263.12 L596.76,263.09 L599.68,263.06 L602.59,263.03 L605.50,263.00 L608.41,262.97 L611.32,262.94 L614.24,262.91 L617.15,262.88 L620.06,262.85 L622.97,262.82 L625.88,262.79 L628.79,262.76 L631.71,262.74 L634.62,262.71 L637.53,262.68 L640.44,262.65 L643.35,262.62 L646.44,262.34 L649.65,261.90 L652.62,261.79 L655.00,262.50 L656.49,264.25 L657.46,266.76 L658.20,269.51 L659.00,272.00 L659.76,274.14 L660.47,276.42 L661.20,278.23 L662.00,279.00 L662.94,278.21 L663.96,276.27 L664.99,273.94 L666.00,272.00 L666.76,270.91 L667.51,269.92 L668.25,268.97 L669.00,268.00" fill="none" stroke="#ff0000" stroke-width="4.2" stroke-dasharray="4.3 3.6" stroke-linejoin="round"/>
<path d="M475.3,80H540.9" stroke="#000" stroke-width="4.0"/>
<path d="M475.3,111.3H540.9" stroke="#0000ff" stroke-width="3.9" stroke-dasharray="15.5 16"/>
<path d="M475.3,142.6H540.9" stroke="#ff0000" stroke-width="4.2" stroke-dasharray="4.3 3.6"/>
<g font-size="26.5"><text x="546" y="90">Actual</text><text x="546" y="122">CDKF</text><text x="546" y="152.6">DCDKF</text></g>
</svg>
</body></html>
